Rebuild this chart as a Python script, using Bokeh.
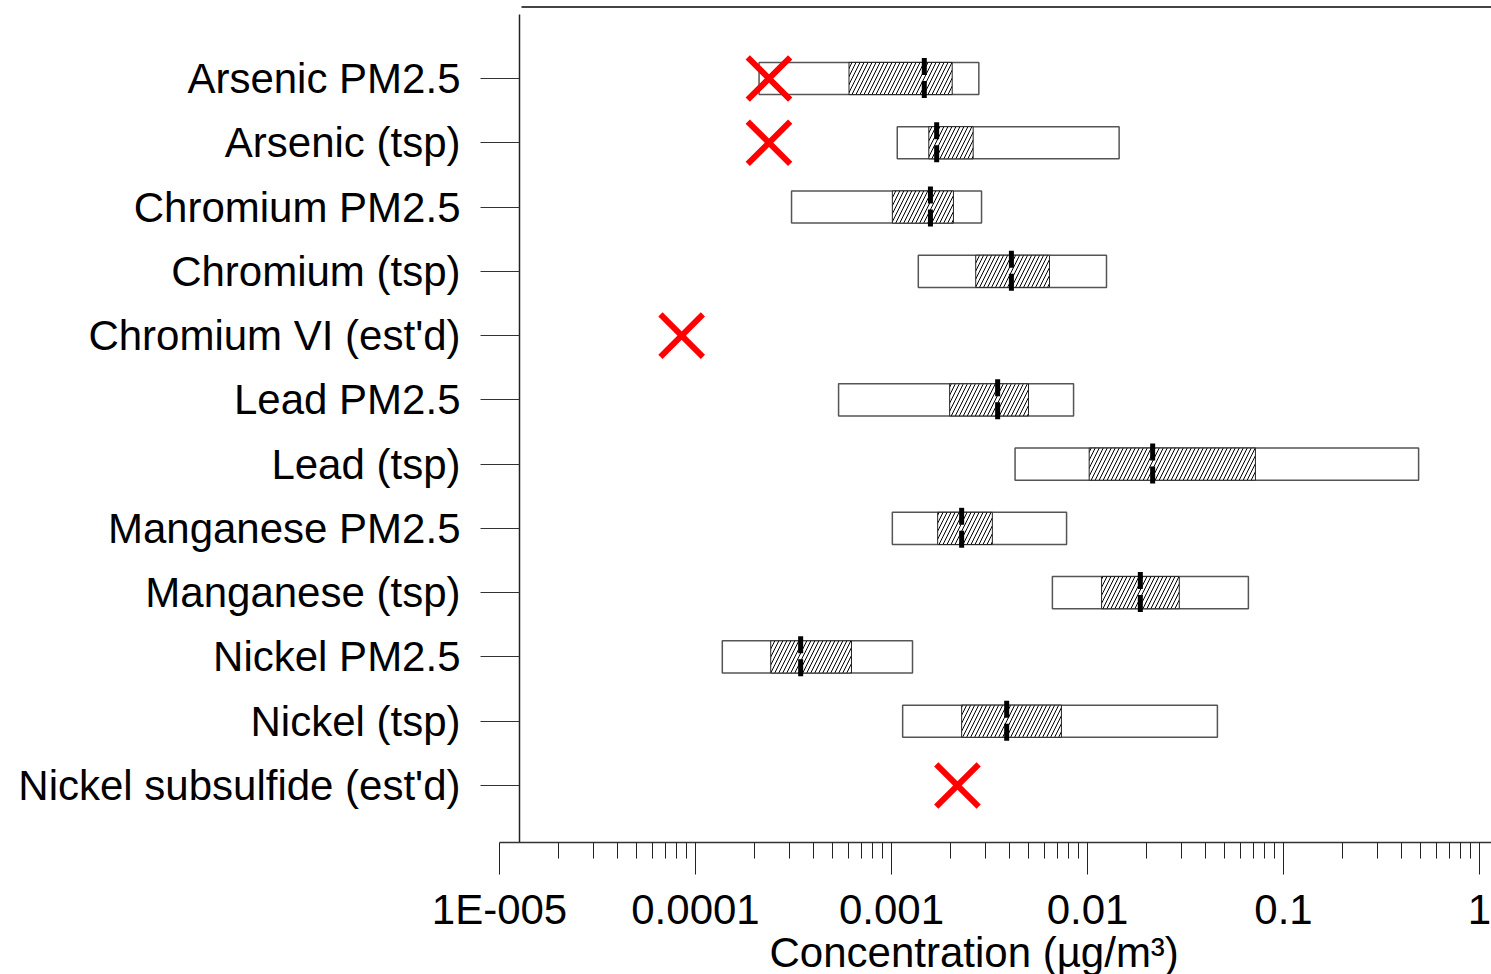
from bokeh.plotting import figure
from bokeh.models import Range1d, FixedTicker, ColumnDataSource, Title
from bokeh.transform import dodge
from bokeh.embed import file_html
from bokeh.resources import INLINE

# ---------------- data ----------------
categories = ["Arsenic PM2.5", "Arsenic (tsp)", "Chromium PM2.5", "Chromium (tsp)",
              "Chromium VI (est'd)", "Lead PM2.5", "Lead (tsp)", "Manganese PM2.5",
              "Manganese (tsp)", "Nickel PM2.5", "Nickel (tsp)", "Nickel subsulfide (est'd)"]

box_cats = ["Arsenic PM2.5", "Arsenic (tsp)", "Chromium PM2.5", "Chromium (tsp)",
            "Lead PM2.5", "Lead (tsp)", "Manganese PM2.5", "Manganese (tsp)",
            "Nickel PM2.5", "Nickel (tsp)"]
box_min = [2.11e-4, 1.07e-3, 3.09e-4, 1.37e-3, 5.37e-4, 4.27e-3, 1.01e-3, 6.62e-3, 1.37e-4, 1.14e-3]
box_q1 = [6.07e-4, 1.55e-3, 1.01e-3, 2.69e-3, 1.98e-3, 1.02e-2, 1.72e-3, 1.18e-2, 2.42e-4, 2.28e-3]
box_med = [1.47e-3, 1.70e-3, 1.58e-3, 4.09e-3, 3.48e-3, 2.15e-2, 2.28e-3, 1.86e-2, 3.44e-4, 3.87e-3]
box_q3 = [2.04e-3, 2.61e-3, 2.07e-3, 6.40e-3, 5.00e-3, 7.19e-2, 3.27e-3, 2.94e-2, 6.25e-4, 7.36e-3]
box_max = [2.79e-3, 1.45e-2, 2.88e-3, 1.25e-2, 8.49e-3, 0.489, 7.82e-3, 6.62e-2, 1.28e-3, 4.60e-2]

mark_cats = ["Arsenic PM2.5", "Arsenic (tsp)", "Chromium VI (est'd)", "Nickel subsulfide (est'd)"]
mark_vals = [2.37e-4, 2.37e-4, 8.5e-5, 2.17e-3]

major_ticks = [1e-5, 1e-4, 1e-3, 1e-2, 1e-1, 1.0]
major_labels = ["1E-005", "0.0001", "0.001", "0.01", "0.1", "1"]
x_title = "Concentration (µg/m³)"

# ---------------- layout constants ----------------
FONT = "Liberation Sans"
FS = "42px"
W, H = 1491, 974
FL, FB = 499, 842          # frame left / bottom (px)
ROW0, ROWSTEP = 78, 64.27  # first row centre / spacing (px)
DEC = 196.0                # pixels per decade
X_END = 10 ** ((W - FL) / DEC - 5)
Y_TOP = (0 - ROW0) / ROWSTEP
Y_BOT = (FB - ROW0) / ROWSTEP


def px_to_x(px):
    return 10 ** ((px - FL) / DEC - 5)


def px_to_y(py):
    return (py - ROW0) / ROWSTEP


box_src = ColumnDataSource(dict(
    y=[categories.index(c) for c in box_cats],
    lo=box_min, q1=box_q1, med=box_med, q3=box_q3, hi=box_max))
mark_src = ColumnDataSource(dict(
    y=[categories.index(c) for c in mark_cats], x=mark_vals))

p = figure(width=W, height=H, x_axis_type="log",
           x_range=Range1d(1e-5, X_END), y_range=Range1d(Y_BOT, Y_TOP),
           output_backend="svg", toolbar_location=None,
           min_border_left=FL, min_border_right=0, min_border_top=0,
           min_border_bottom=H - FB)
p.outline_line_color = None
p.xgrid.visible = False
p.ygrid.visible = False
p.background_fill_color = "white"
p.border_fill_color = "white"

# decorative frame lines (top line and left vertical axis line)
p.segment(x0=[px_to_x(521)], x1=[X_END], y0=[px_to_y(6.5)], y1=[px_to_y(6.5)],
          line_color="#444444", line_width=2)
p.segment(x0=[px_to_x(519)], x1=[px_to_x(519)], y0=[px_to_y(14)], y1=[Y_BOT],
          line_color="#222222", line_width=1.5)

# outer range bars
p.hbar(y="y", left="lo", right="hi", height=0.5, source=box_src,
       fill_color="white", line_color="#555555", line_width=1.5)
# hatched inter-quartile boxes
p.hbar(y="y", left="q1", right="q3", height=0.5, source=box_src,
       fill_color="white", line_color="#222222", line_width=1,
       hatch_pattern="right_diagonal_line", hatch_color="black",
       hatch_scale=8, hatch_weight=1)
# median dashed bars
p.segment(x0="med", x1="med", y0=dodge("y", -0.32), y1=dodge("y", 0.32),
          source=box_src, line_color="black", line_width=5, line_dash="17 6")
# red crosses
p.scatter(x="x", y="y", source=mark_src, marker="x", size=60,
          line_color="#ff0000", line_width=6)

# x axis
xa = p.xaxis[0]
xa.ticker = FixedTicker(ticks=major_ticks,
                        minor_ticks=[m * 10.0 ** e for e in range(-5, 0) for m in range(2, 10)])
xa.major_label_overrides = {t: l for t, l in zip(major_ticks, major_labels)}
xa.major_tick_out = 32
xa.major_tick_in = 0
xa.minor_tick_out = 16
xa.minor_tick_in = 0
xa.major_tick_line_color = "#222222"
xa.minor_tick_line_color = "#222222"
xa.axis_line_color = "#333333"
xa.axis_line_width = 1.5
xa.major_label_text_font = FONT
xa.major_label_text_font_size = FS
xa.major_label_text_color = "black"
xa.major_label_standoff = 11

# x axis title (as a below-title so it can be shifted horizontally)
p.add_layout(Title(text=x_title, align="left", offset=270, standoff=-18,
                   text_font=FONT, text_font_size=FS, text_font_style="normal",
                   text_color="black"), "below")

# y axis
ya = p.yaxis[0]
ya.ticker = FixedTicker(ticks=list(range(len(categories))))
ya.major_label_overrides = {i: c for i, c in enumerate(categories)}
ya.axis_line_color = None
ya.major_tick_out = 19
ya.major_tick_in = 20
ya.minor_tick_line_color = None
ya.major_tick_line_color = "#333333"
ya.major_label_text_font = FONT
ya.major_label_text_font_size = FS
ya.major_label_text_color = "black"
ya.major_label_standoff = 20

open("out.html", "w").write(file_html(p, INLINE))
